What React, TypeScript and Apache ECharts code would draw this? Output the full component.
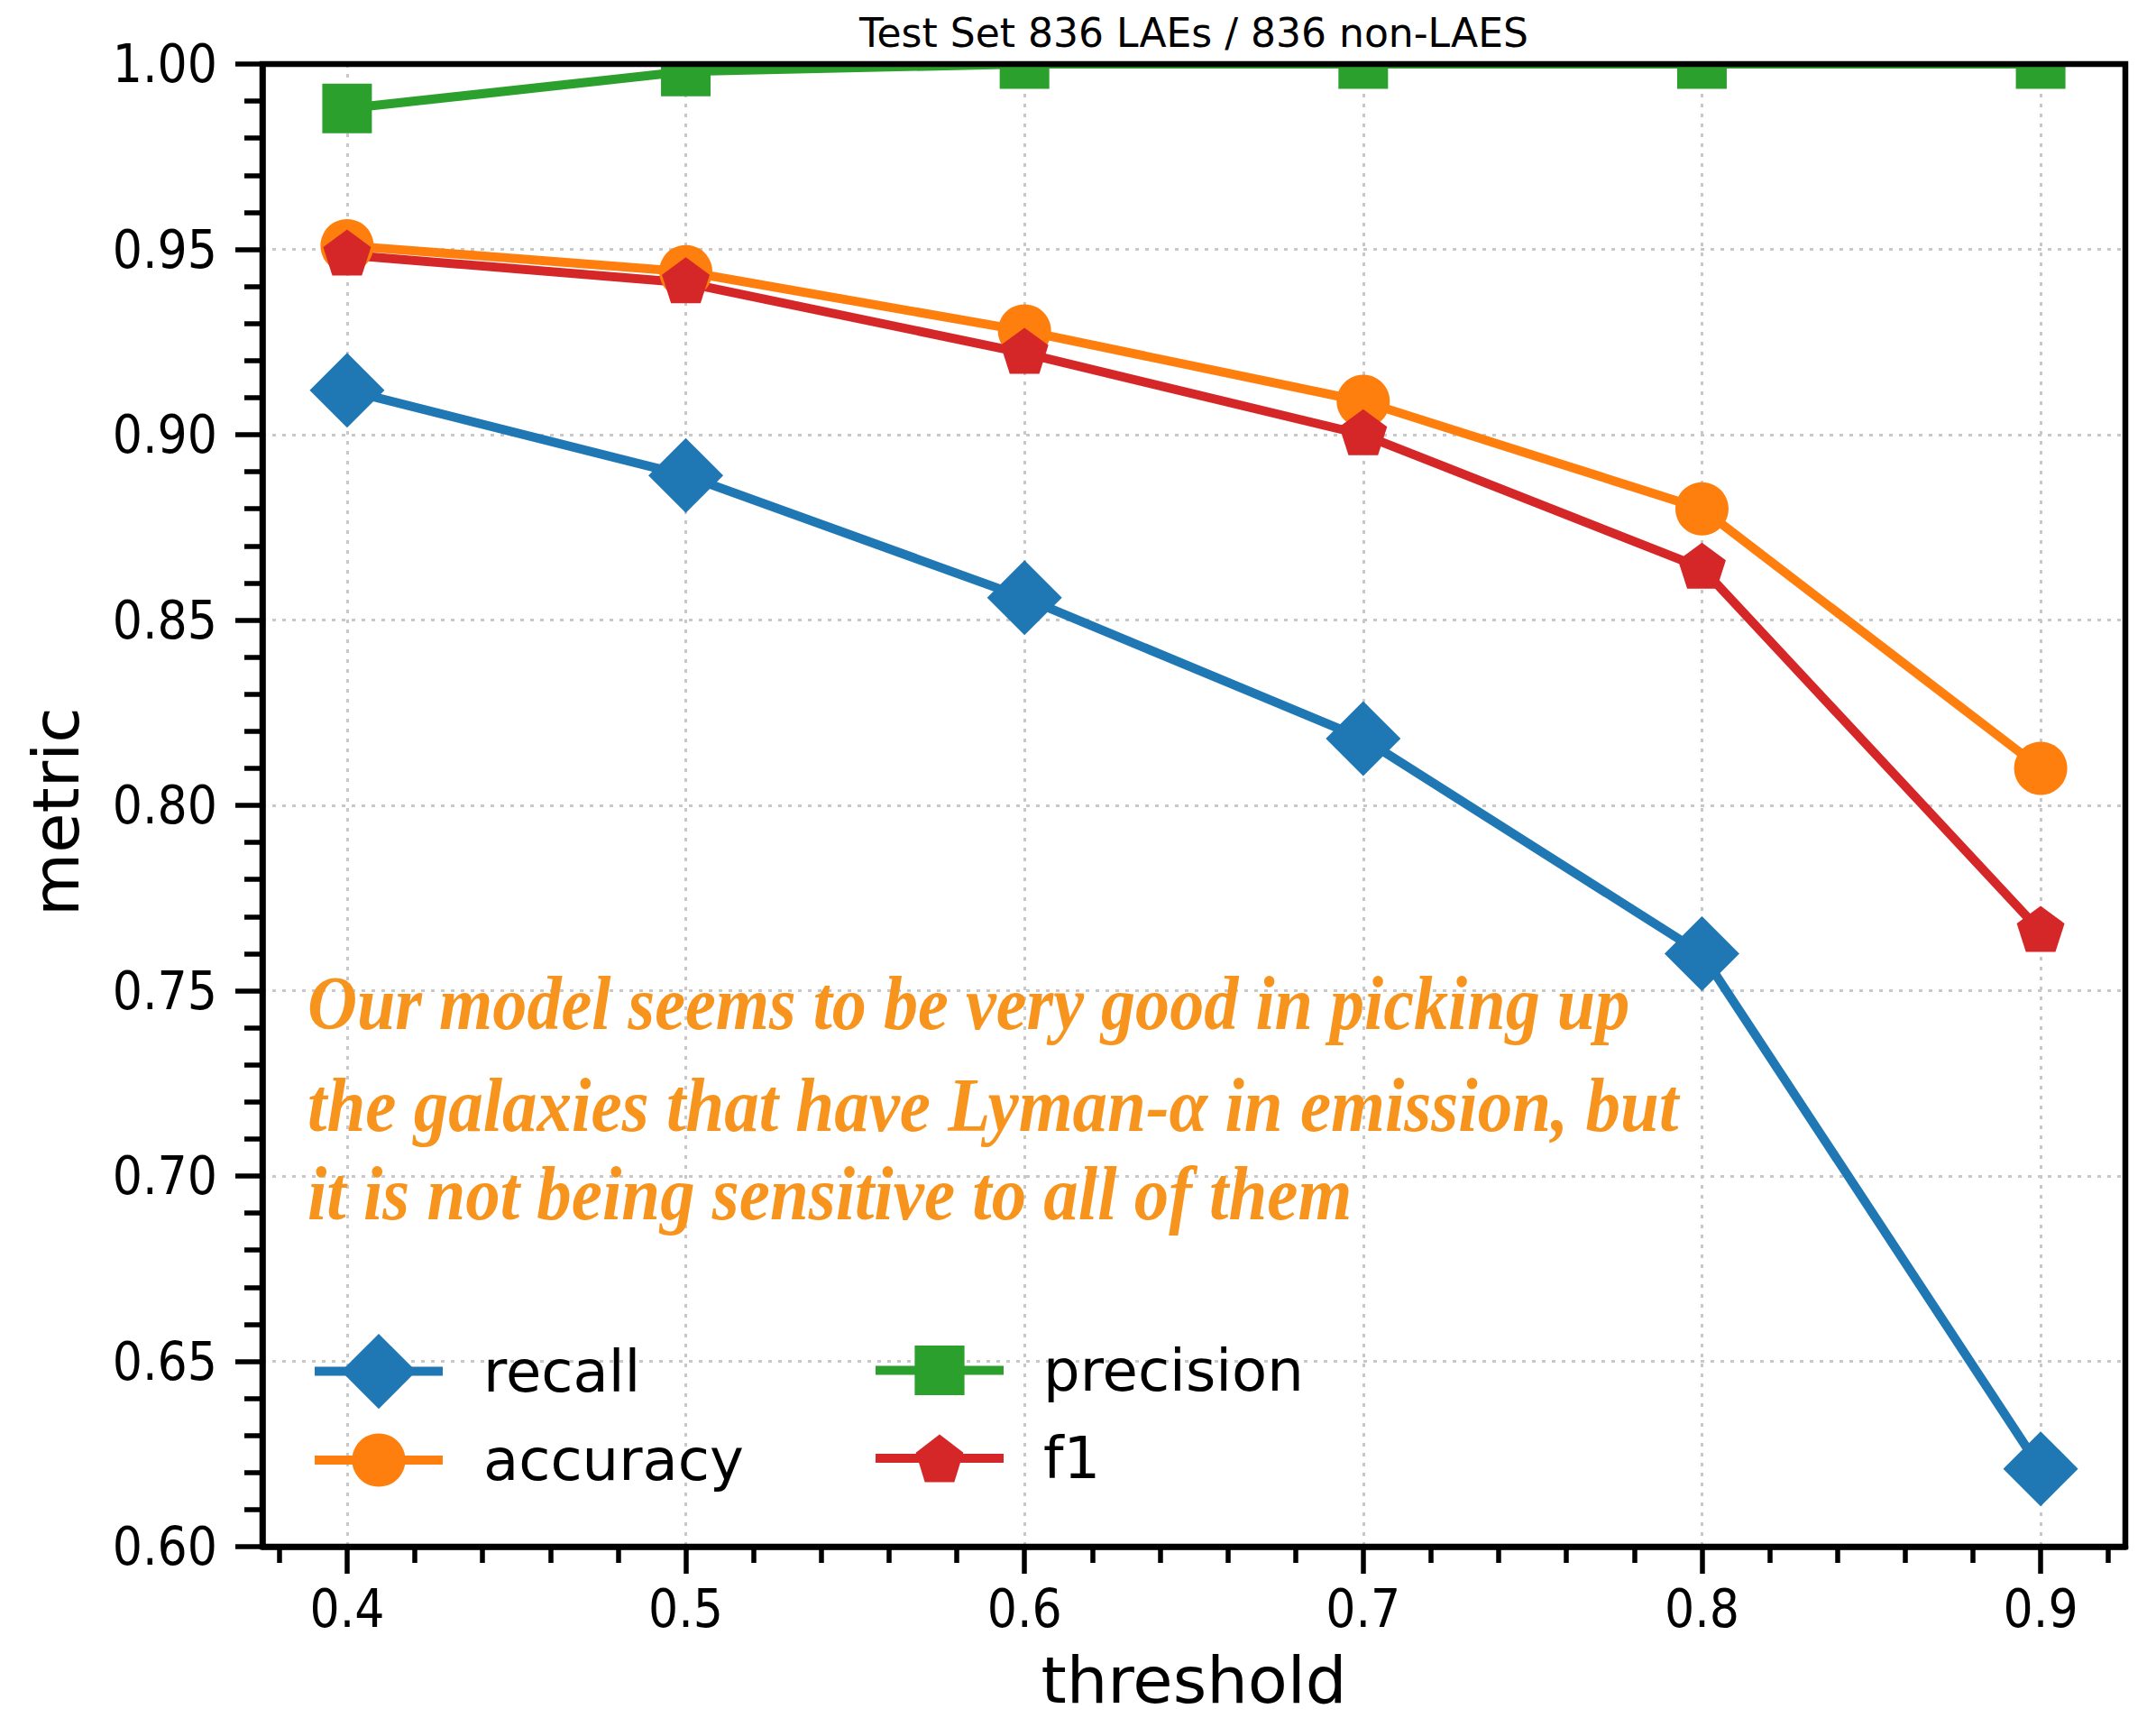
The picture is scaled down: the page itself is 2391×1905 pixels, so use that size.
import React, { useEffect, useRef } from "react";
import * as echarts from "echarts";

// ---- data ----
const thresholds = [0.4, 0.5, 0.6, 0.7, 0.8, 0.9];
const recall = [0.912, 0.889, 0.856, 0.818, 0.76, 0.621];
const accuracy = [0.951, 0.944, 0.928, 0.909, 0.88, 0.81];
const precision = [0.988, 0.998, 1.0, 1.0, 1.0, 1.0];
const f1 = [0.9485, 0.941, 0.922, 0.9, 0.864, 0.766];

const xMajorTicks = [0.4, 0.5, 0.6, 0.7, 0.8, 0.9];
const xMinorTicks = [
  0.38, 0.42, 0.44, 0.46, 0.48, 0.52, 0.54, 0.56, 0.58, 0.62, 0.64, 0.66, 0.68,
  0.72, 0.74, 0.76, 0.78, 0.82, 0.84, 0.86, 0.88, 0.92,
];
const titleText = "Test Set 836 LAEs / 836 non-LAES";
const xName = "threshold";
const yName = "metric";
const noteLines = [
  "Our model seems to be very good in picking up",
  "the galaxies that have Lyman-\u03b1 in emission, but",
  "it is not being sensitive to all of them",
];

// ---- layout / style ----
const W = 2391;
const H = 1905;
const GL = 291;
const GT = 71;
const GR = 2357;
const GB = 1715;
const SANS = '"DejaVu Sans", sans-serif';
const TICKFONT = '"DejaVu Sans Condensed", "DejaVu Sans", sans-serif';
const C_BLUE = "#1f77b4";
const C_ORANGE = "#ff7f0e";
const C_GREEN = "#2ca02c";
const C_RED = "#d62728";
const NOTE_COLOR = "#F7941D";
const PENTAGON =
  "path://M0,-1 L0.951,-0.309 L0.588,0.809 L-0.588,0.809 L-0.951,-0.309 Z";

const noteX = 341;
const noteBaselines = [1141, 1254, 1352];
const noteWidths = [1467, 1520, 1158];
const noteSize = 84;
const noteFamily = '"Liberation Serif", "DejaVu Serif", serif';

function pairs(vals: number[]) {
  return thresholds.map((t, i) => [t, vals[i]]);
}

export default function App() {
  const ref = useRef<HTMLDivElement>(null);

  useEffect(() => {
    if (!ref.current) return;
    const chart = echarts.init(ref.current, null, { renderer: "svg" });

    const canvas = document.createElement("canvas");
    const ctx = canvas.getContext("2d");
    const noteEls = noteLines.map((line, i) => {
      let s = 1;
      if (ctx) {
        ctx.font = `italic bold ${noteSize}px ${noteFamily}`;
        const w = ctx.measureText(line).width;
        if (w > 0) s = noteWidths[i] / w;
      }
      return {
        type: "text",
        x: noteX,
        y: noteBaselines[i] - 0.3375 * noteSize,
        scaleX: s,
        z: 40,
        silent: true,
        style: {
          text: line,
          fill: NOTE_COLOR,
          fontSize: noteSize,
          fontFamily: noteFamily,
          fontWeight: "bold",
          fontStyle: "italic",
          align: "left",
          textAlign: "left",
          verticalAlign: "middle",
          textVerticalAlign: "middle",
        },
      };
    });

    const tickLine = { color: "#000", width: 5.5 };
    const gridLine = { color: "#c8c8c8", width: 3, type: [4, 7] };

    const legendBase = (
      name: string,
      left: number,
      centerY: number,
      itemHeight: number,
      pad: number,
      shift: number
    ) => ({
      data: [name],
      left,
      top: centerY - itemHeight / 2 + shift,
      orient: "vertical",
      itemWidth: 142,
      itemHeight,
      padding: 0,
      selectedMode: false,
      lineStyle: { width: 10 },
      itemStyle: { borderWidth: 0 },
      textStyle: {
        fontSize: 64,
        fontFamily: SANS,
        color: "#000",
        padding: [0, 0, 0, pad],
      },
    });

    const option: any = {
      animation: false,
      backgroundColor: "#fff",
      grid: {
        left: GL,
        top: GT,
        width: GR - GL,
        height: GB - GT,
        containLabel: false,
        outerBoundsMode: "none",
      },
      xAxis: [
        {
          type: "value",
          min: 0.375,
          max: 0.925,
          position: "bottom",
          axisLine: { show: true, lineStyle: { color: "#000", width: 6.5 } },
          axisTick: {
            show: true,
            customValues: xMajorTicks,
            length: 30,
            lineStyle: tickLine,
          },
          axisLabel: {
            customValues: xMajorTicks,
            formatter: (v: number) => v.toFixed(1),
            margin: 40,
            fontSize: 58,
            fontFamily: TICKFONT,
            color: "#000",
          },
          splitLine: { show: true, lineStyle: gridLine },
          name: xName,
          nameLocation: "middle",
          nameGap: 112,
          nameTextStyle: {
            fontSize: 72,
            lineHeight: 72,
            fontFamily: SANS,
            color: "#000",
          },
        },
        {
          type: "value",
          min: 0.375,
          max: 0.925,
          position: "bottom",
          axisLine: { show: false },
          axisTick: {
            show: true,
            customValues: xMinorTicks,
            length: 18,
            lineStyle: tickLine,
          },
          axisLabel: { show: false },
          splitLine: { show: false },
        },
      ],
      yAxis: {
        type: "value",
        min: 0.6,
        max: 1.0,
        interval: 0.05,
        axisLine: { show: true, lineStyle: { color: "#000", width: 6.5 } },
        axisTick: { show: true, length: 30, lineStyle: tickLine },
        minorTick: { show: true, splitNumber: 5, length: 20, lineStyle: tickLine },
        minorSplitLine: { show: false },
        axisLabel: {
          formatter: (v: number) => v.toFixed(2),
          margin: 50,
          fontSize: 58,
          fontFamily: TICKFONT,
          color: "#000",
        },
        splitLine: { show: true, lineStyle: gridLine },
        name: yName,
        nameLocation: "middle",
        nameGap: 193,
        nameRotate: 90,
        nameTextStyle: {
          fontSize: 72,
          fontFamily: SANS,
          color: "#000",
          padding: [0, 14, 0, 0],
        },
      },
      legend: [
        legendBase("recall", 344, 1522, 104, 40, 9),
        legendBase("accuracy", 344, 1618, 74, 40, 6),
        legendBase("precision", 966, 1522, 69, 39, 0),
        legendBase("f1", 966, 1618, 66, 39, 0),
      ],
      series: [
        {
          name: "recall",
          type: "line",
          data: pairs(recall),
          symbol: "diamond",
          symbolSize: 83,
          lineStyle: { color: C_BLUE, width: 10 },
          itemStyle: { color: C_BLUE, borderWidth: 0 },
          silent: true,
        },
        {
          name: "accuracy",
          type: "line",
          data: pairs(accuracy),
          symbol: "circle",
          symbolSize: 59,
          lineStyle: { color: C_ORANGE, width: 10 },
          itemStyle: { color: C_ORANGE, borderWidth: 0 },
          silent: true,
        },
        {
          name: "precision",
          type: "line",
          data: pairs(precision),
          symbol: "rect",
          symbolSize: 55,
          lineStyle: { color: C_GREEN, width: 10 },
          itemStyle: { color: C_GREEN, borderWidth: 0 },
          silent: true,
        },
        {
          name: "f1",
          type: "line",
          data: pairs(f1),
          symbol: PENTAGON,
          symbolSize: [53, 51],
          symbolOffset: [0, -2.7],
          lineStyle: { color: C_RED, width: 10 },
          itemStyle: { color: C_RED, borderWidth: 0 },
          silent: true,
        },
      ],
      graphic: [
        {
          type: "rect",
          z: 50,
          silent: true,
          shape: { x: GL, y: 0, width: GR - GL, height: GT },
          style: { fill: "#fff" },
        },
        {
          type: "rect",
          z: 51,
          silent: true,
          shape: { x: GL, y: GT, width: GR - GL, height: GB - GT },
          style: { fill: "none", stroke: "#000", lineWidth: 6.5 },
        },
        {
          type: "text",
          z: 52,
          silent: true,
          x: (GL + GR) / 2,
          y: 52 - 0.346 * 44,
          style: {
            text: titleText,
            fill: "#000",
            fontSize: 44,
            fontFamily: SANS,
            align: "center",
            textAlign: "center",
            verticalAlign: "middle",
            textVerticalAlign: "middle",
          },
        },
        ...noteEls,
      ],
    };

    chart.setOption(option);
    return () => {
      chart.dispose();
    };
  }, []);

  return (
    <div
      ref={ref}
      style={{ position: "absolute", left: 0, top: 0, width: W, height: H }}
    />
  );
}
